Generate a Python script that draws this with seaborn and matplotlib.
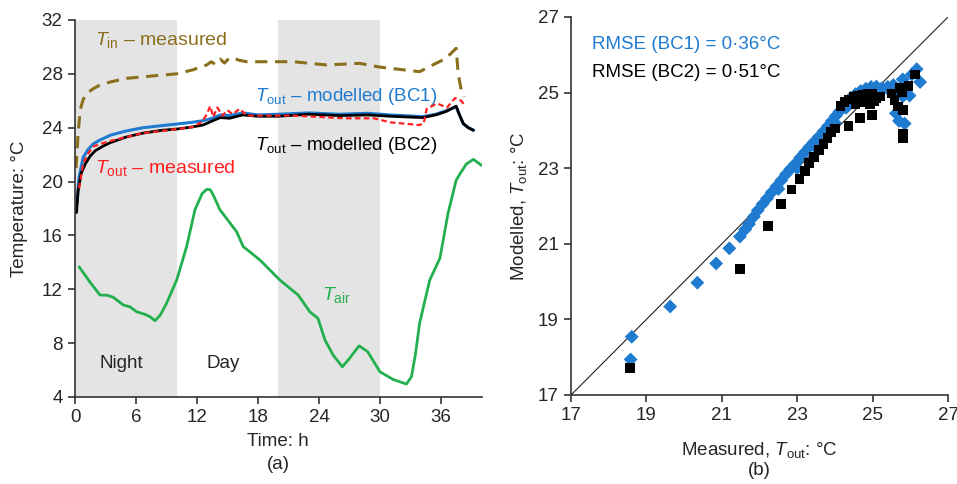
import numpy as np
import pandas as pd
import matplotlib
matplotlib.use("Agg")
import matplotlib.pyplot as plt
import seaborn as sns

# (a) time series
t_in = [0.1, 0.3, 0.5, 0.8, 1.15, 1.8, 2.46, 3.5, 5.1, 7, 8.4, 10, 11.6, 12.3, 12.95, 13.4, 13.8,
        14.3, 14.7, 15.2, 15.6, 16.2, 16.9, 18.85, 21.5, 24.75, 28, 30, 33.9, 35.2, 36.5, 37.5,
        37.7, 38.0, 38.3]
T_in = [21.0, 23.5, 25.3, 26.1, 26.55, 26.9, 27.17, 27.4, 27.67, 27.8, 27.9, 28.0, 28.3, 28.5,
        28.66, 28.9, 28.7, 29.1, 28.8, 29.2, 29.15, 29.0, 28.9, 28.9, 28.9, 28.66, 28.78, 28.5,
        28.16, 28.66, 29.15, 29.9, 28.0, 26.8, 26.3]

t_bc1 = [0.2, 0.4, 0.8, 1.3, 1.8, 2.5, 3.5, 5, 6.7, 8.5, 10, 11.5, 12.6, 13.5, 14.3, 15.2, 16.5,
         18, 20, 23, 26, 28.8, 31, 34.2, 35.5, 36.5, 37.5, 37.8, 38.2, 38.7, 39.2]
T_bc1 = [18.5, 20.3, 21.8, 22.4, 22.8, 23.1, 23.45, 23.75, 24.0, 24.15, 24.27, 24.4, 24.52, 24.7,
         24.95, 24.9, 25.1, 24.95, 25.0, 25.1, 25.0, 25.07, 24.95, 24.82, 25.0, 25.25, 25.56,
         25.0, 24.3, 24.0, 23.83]

t_bc2 = [0.15, 0.3, 0.6, 1.0, 1.5, 2.0, 2.8, 3.5, 5, 6.7, 8.5, 10, 11.5, 12.6, 13.5, 14.3, 15.2,
         16.5, 18, 20, 23, 26, 28.8, 31, 34.2, 35.5, 36.5, 37.5, 37.8, 38.2, 38.7, 39.2]
T_bc2 = [17.7, 19.3, 20.6, 21.3, 21.9, 22.3, 22.65, 22.9, 23.3, 23.6, 23.8, 23.9, 24.05, 24.2,
         24.5, 24.75, 24.7, 24.95, 24.85, 24.85, 25.0, 24.9, 24.95, 24.85, 24.75, 24.95, 25.2,
         25.6, 25.0, 24.3, 24.0, 23.8]

t_meas = [0.4, 0.8, 1.2, 1.8, 2.5, 3.4, 5, 6.7, 8.5, 10, 11.6, 12.4, 12.9, 13.3, 13.6, 14.0, 14.5,
          15.0, 15.5, 16.2, 16.9, 18, 21.5, 24, 26.4, 29.4, 31, 33.9, 34.3, 34.6, 35.6, 36.6,
          37.4, 38.0, 38.3]
T_meas = [19.5, 21.3, 22.0, 22.6, 22.8, 23.0, 23.3, 23.6, 23.75, 23.9, 24.05, 24.4, 24.9, 25.6,
          24.8, 25.5, 24.9, 25.3, 25.0, 25.4, 24.9, 24.9, 24.9, 24.8, 24.7, 24.7, 24.4, 24.2,
          24.3, 25.4, 25.8, 25.5, 26.2, 26.0, 25.7]

t_air = [0.4, 1.5, 2.46, 3.2, 3.77, 4.75, 5.4, 6.06, 6.9, 7.4, 7.87, 8.4, 9.0, 10.0, 10.98, 11.8,
         12.5, 12.95, 13.3, 13.6, 14.26, 14.9, 15.9, 16.55, 17.0, 18.2, 20.16, 21.96, 23.1, 23.9,
         24.6, 25.4, 26.3, 27.0, 27.95, 28.8, 30.0, 31.3, 31.96, 32.6, 33.1, 33.5, 33.9, 34.9,
         35.9, 36.7, 37.5, 37.9, 38.5, 39.2, 40.0]
T_air = [13.67, 12.5, 11.57, 11.55, 11.4, 10.83, 10.7, 10.33, 10.13, 9.95, 9.66, 10.1, 10.95,
         12.68, 15.16, 17.9, 19.1, 19.42, 19.4, 19.0, 17.9, 17.27, 16.27, 15.16, 14.9, 14.17,
         12.68, 11.57, 10.33, 9.84, 8.22, 7.11, 6.24, 6.86, 7.8, 7.36, 5.87, 5.3, 5.13, 4.96,
         5.5, 7.2, 9.47, 12.68, 14.3, 17.64, 20.1, 20.6, 21.3, 21.65, 21.2]

night_bands = [(0, 10), (20, 30)]

# (b) modelled vs measured
meas_bc1 = [18.58, 18.61, 19.63, 20.35, 20.85, 21.20, 21.48, 21.62, 21.72, 21.85, 21.95, 22.08,
            22.20, 22.32, 22.45, 22.58, 22.70, 22.82, 22.95, 23.08, 23.20, 23.32, 23.45, 23.58,
            23.70, 23.82, 23.92, 24.02, 24.12, 24.22, 24.32, 24.42, 24.55, 24.68, 24.82, 24.96,
            25.10, 25.25, 25.40, 25.55, 25.62, 25.70, 25.85, 25.80, 25.98, 25.80, 26.04, 26.17,
            26.26, 25.48, 25.65, 22.50, 23.00, 23.50, 24.00, 24.30, 24.60, 23.80, 24.45]
mod_bc1 = [17.94, 18.54, 19.34, 19.97, 20.48, 20.88, 21.19, 21.38, 21.52, 21.72, 21.88, 22.05,
           22.20, 22.36, 22.52, 22.68, 22.84, 22.98, 23.12, 23.28, 23.42, 23.56, 23.70, 23.84,
           23.98, 24.12, 24.25, 24.38, 24.50, 24.62, 24.74, 24.86, 24.96, 25.04, 25.10, 25.15,
           25.16, 25.12, 25.15, 25.20, 24.45, 24.25, 24.18, 24.90, 24.92, 25.35, 25.48, 25.62,
           25.28, 25.02, 25.05, 22.45, 23.00, 23.55, 24.20, 24.60, 24.90, 24.00, 24.75]

meas_bc2 = [18.56, 21.48, 22.23, 22.57, 22.85, 23.06, 23.20, 23.32, 23.45, 23.58, 23.70, 23.80,
            23.90, 24.00, 24.36, 24.67, 24.98, 24.15, 24.25, 24.38, 24.50, 24.62, 24.75, 24.88,
            25.00, 24.93, 25.10, 25.20, 25.50, 25.58, 25.68, 25.80, 25.78, 25.95, 26.12, 25.80,
            25.80, 25.72, 25.05, 24.80, 24.55]
mod_bc2 = [17.71, 20.33, 21.47, 22.05, 22.44, 22.71, 22.93, 23.13, 23.30, 23.48, 23.64, 23.80,
           23.95, 24.05, 24.12, 24.32, 24.41, 24.65, 24.75, 24.82, 24.88, 24.92, 24.95, 24.98,
           24.97, 24.70, 24.85, 24.90, 24.98, 24.80, 24.63, 24.54, 25.00, 25.18, 25.48, 23.92,
           23.80, 25.12, 24.78, 24.75, 24.70]

c_in = "#8a6f1c"
c_blue = "#1f7bd0"
c_red = "#ff1f1f"
c_green = "#22b04e"
fs = 13.5

sns.set_style("ticks")
plt.rcParams["font.family"] = ["Liberation Sans", "DejaVu Sans"]
plt.rcParams["mathtext.fontset"] = "custom"
plt.rcParams["mathtext.rm"] = "Liberation Sans"
plt.rcParams["mathtext.it"] = "Liberation Sans:italic"
plt.rcParams["font.size"] = fs

fig = plt.figure(figsize=(9.57, 4.84), dpi=100)
ax1 = fig.add_axes([0.0784, 0.1798, 0.4248, 0.7789])
ax2 = fig.add_axes([0.5967, 0.1839, 0.3939, 0.7810])

# ---- panel (a)
for a, b in night_bands:
    ax1.axvspan(a, b, color="#e4e4e4", lw=0, zorder=0)

sns.lineplot(x=t_air, y=T_air, ax=ax1, color=c_green, lw=2, estimator=None, sort=False)
sns.lineplot(x=t_in, y=T_in, ax=ax1, color=c_in, lw=2.2, estimator=None, sort=False)
ax1.lines[-1].set_dashes([4, 2.5])
sns.lineplot(x=t_bc1, y=T_bc1, ax=ax1, color=c_blue, lw=2.2, estimator=None, sort=False)
sns.lineplot(x=t_bc2, y=T_bc2, ax=ax1, color="black", lw=2, estimator=None, sort=False)
sns.lineplot(x=t_meas, y=T_meas, ax=ax1, color=c_red, lw=1.6, estimator=None, sort=False)
ax1.lines[-1].set_dashes([2.5, 1.5])

ax1.set_xlim(0, 40)
ax1.set_ylim(4, 32)
ax1.set_xticks(range(0, 37, 6))
ax1.set_yticks(range(4, 33, 4))
ax1.set_xlabel("Time: h\n(a)", fontsize=fs, labelpad=5, linespacing=1.45)
ax1.set_ylabel("Temperature: °C", fontsize=fs, labelpad=10)

ax1.text(1.97, 30.5, r"$T_{\mathrm{in}}$ – measured", color=c_in, fontsize=14, va="center")
ax1.text(17.7, 26.3, r"$T_{\mathrm{out}}$ – modelled (BC1)", color=c_blue, fontsize=13.5, va="center")
ax1.text(17.7, 22.7, r"$T_{\mathrm{out}}$ – modelled (BC2)", color="black", fontsize=13.5, va="center")
ax1.text(1.97, 21.0, r"$T_{\mathrm{out}}$ – measured", color=c_red, fontsize=14, va="center")
ax1.text(24.3, 11.6, r"$T_{\mathrm{air}}$", color=c_green, fontsize=14, va="center")
ax1.text(2.4, 6.5, "Night", fontsize=fs, va="center")
ax1.text(12.9, 6.5, "Day", fontsize=fs, va="center")

# ---- panel (b)
ax2.plot([17, 27], [17, 27], color="#222222", lw=0.8, zorder=1)
sns.scatterplot(x=meas_bc1, y=mod_bc1, ax=ax2, marker="D", s=50, color=c_blue,
                edgecolor="none", zorder=2)
sns.scatterplot(x=meas_bc2, y=mod_bc2, ax=ax2, marker="s", s=48, color="black",
                edgecolor="none", zorder=3)
ax2.set_xlim(17, 27)
ax2.set_ylim(17, 27)
ax2.set_xticks(range(17, 28, 2))
ax2.set_yticks(range(17, 28, 2))
ax2.set_xlabel("Measured, $T_{\\mathrm{out}}$: °C\n(b)", fontsize=fs, labelpad=11, linespacing=1.15)
ax2.set_ylabel("Modelled, $T_{\\mathrm{out}}$: °C", fontsize=fs, labelpad=6)
ax2.text(17.55, 26.26, "RMSE (BC1) = 0·36°C", color=c_blue, fontsize=fs, va="center")
ax2.text(17.55, 25.54, "RMSE (BC2) = 0·51°C", color="black", fontsize=fs, va="center")

for ax in (ax1, ax2):
    sns.despine(ax=ax)
    for sp in ("left", "bottom"):
        ax.spines[sp].set_color("#333333")
        ax.spines[sp].set_linewidth(1.2)
    ax.tick_params(direction="out", length=5, width=1.2, color="#333333", labelsize=fs, pad=4)
    ax.set_facecolor("white")

fig.savefig("out.png", dpi=100)
